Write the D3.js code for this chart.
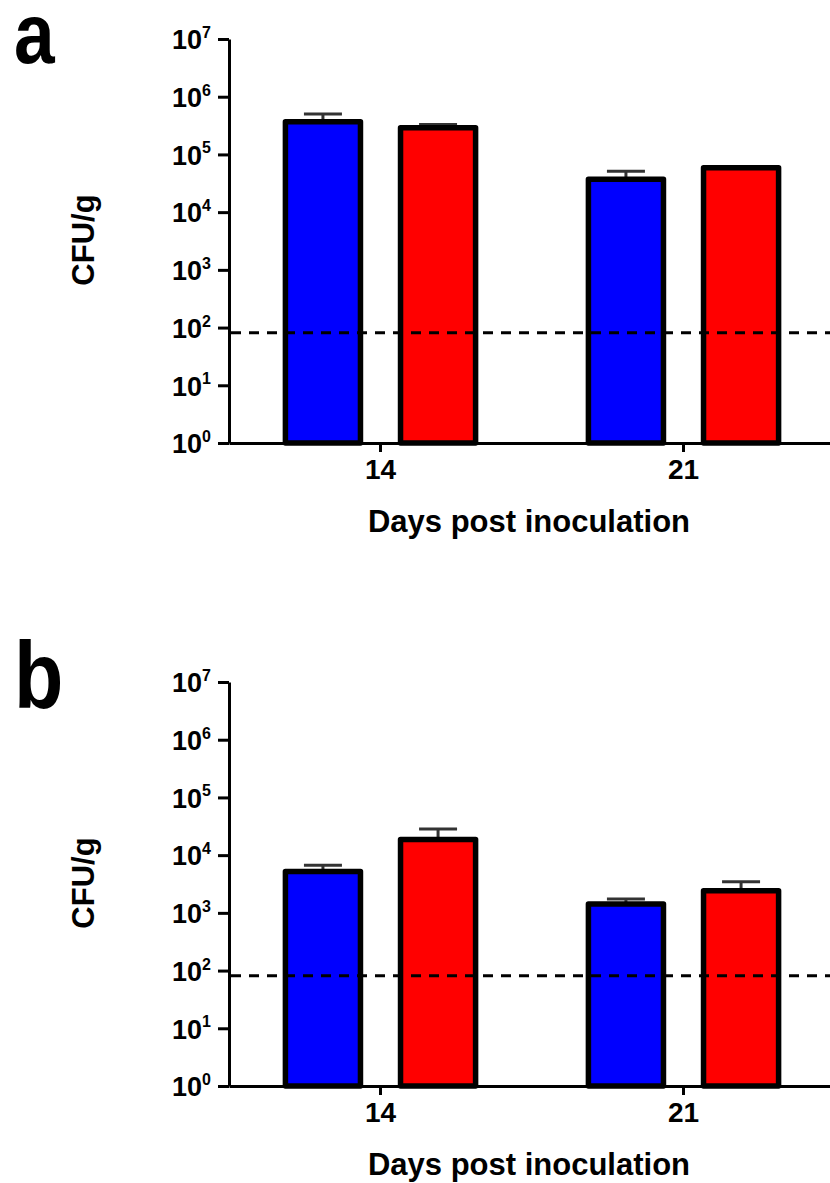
<!DOCTYPE html>
<html>
<head>
<meta charset="utf-8">
<script src="https://cdn.jsdelivr.net/npm/d3@7"></script>
<style>
  body { margin: 0; background: #fff; }
  text { font-family: "Liberation Sans", Arial, sans-serif; font-weight: bold; }
</style>
</head>
<body>
<svg id="chart" width="830" height="1183"></svg>
<script>
// days on the x axis
const days = ["14", "21"];
const seriesNames = ["blue", "red"];
const seriesColors = ["#0000ff", "#ff0000"];

// panel a: means and upper ends of the error bars (CFU/g)
const aBlue = [3.7e5, 3.7e4];
const aBlueUpper = [5.0e5, 5.1e4];
const aRed = [2.9e5, 5.9e4];
const aRedUpper = [3.3e5, 6.1e4];

// panel b
const bBlue = [5.2e3, 1.43e3];
const bBlueUpper = [6.7e3, 1.74e3];
const bRed = [1.87e4, 2.42e3];
const bRedUpper = [2.84e4, 3.47e3];

const yTicks = [1, 10, 100, 1e3, 1e4, 1e5, 1e6, 1e7];
const yTickExp = ["0", "1", "2", "3", "4", "5", "6", "7"];
const detectionLimit = 81;

const svg = d3.select("#chart");
const axisX = 229, axisRight = 835, plotH = 404;

function drawPanel(top, letter, blue, blueUp, red, redUp) {
    const g = svg.append("g").attr("transform", "translate(0," + top + ")");

    const y = d3.scaleLog().domain([1, 1e7]).range([plotH, 0]);
    const x0 = d3.scaleBand().domain(days).range([axisX, axisRight]);
    const x1 = d3.scaleBand().domain(seriesNames).range([0, x0.bandwidth()])
        .paddingInner(0.348).paddingOuter(0.49);

    const rows = [];
    days.forEach(function(d, i) {
        rows.push({day: d, s: "blue", v: blue[i], up: blueUp[i], c: seriesColors[0]});
        rows.push({day: d, s: "red", v: red[i], up: redUp[i], c: seriesColors[1]});
    });

    // error bars (upper only)
    const eb = g.selectAll(".err").data(rows).enter().append("g").attr("class", "err");
    eb.append("line")
        .attr("x1", d => x0(d.day) + x1(d.s) + x1.bandwidth() / 2)
        .attr("x2", d => x0(d.day) + x1(d.s) + x1.bandwidth() / 2)
        .attr("y1", d => y(d.v)).attr("y2", d => y(d.up))
        .attr("stroke", "#333").attr("stroke-width", 3);
    eb.append("line")
        .attr("x1", d => x0(d.day) + x1(d.s) + x1.bandwidth() / 2 - 19)
        .attr("x2", d => x0(d.day) + x1(d.s) + x1.bandwidth() / 2 + 19)
        .attr("y1", d => y(d.up)).attr("y2", d => y(d.up))
        .attr("stroke", "#333").attr("stroke-width", 3);

    // bars
    g.selectAll(".bar").data(rows).enter().append("rect")
        .attr("class", "bar")
        .attr("x", d => x0(d.day) + x1(d.s))
        .attr("width", x1.bandwidth())
        .attr("y", d => y(d.v))
        .attr("height", d => y(1) - y(d.v))
        .attr("fill", d => d.c)
        .attr("stroke", "#000")
        .attr("stroke-width", 5.5)
        .attr("stroke-linejoin", "round");

    // y axis
    const yAxis = d3.axisLeft(y).tickValues(yTicks).tickSize(11).tickSizeOuter(0).tickPadding(7)
        .tickFormat(() => "");
    const ya = g.append("g").attr("transform", "translate(" + axisX + ",0)").call(yAxis);
    ya.select(".domain").attr("stroke-width", 3);
    ya.selectAll(".tick line").attr("stroke-width", 3);
    ya.selectAll(".tick text").each(function(d, i) {
        const t = d3.select(this).attr("font-size", 27).attr("font-family", null).attr("dy", "0.36em")
            .attr("x", -18);
        t.append("tspan").text("10");
        t.append("tspan").text(yTickExp[i]).attr("font-size", 16).attr("dy", "-0.7em");
    });

    // x axis
    const xAxis = d3.axisBottom(x0).tickSize(9).tickSizeOuter(0).tickPadding(7);
    const xa = g.append("g").attr("transform", "translate(0," + plotH + ")").call(xAxis);
    xa.select(".domain").attr("stroke-width", 3);
    xa.selectAll(".tick line").attr("stroke-width", 3);
    xa.selectAll(".tick text").attr("font-size", 28).attr("font-family", null);

    // detection limit
    g.append("line")
        .attr("x1", axisX + 2).attr("x2", 830)
        .attr("y1", y(detectionLimit)).attr("y2", y(detectionLimit))
        .attr("stroke", "#000").attr("stroke-width", 3)
        .attr("stroke-dasharray", "10,8");

    // labels
    g.append("text").attr("x", 529).attr("y", plotH + 89)
        .attr("text-anchor", "middle").attr("font-size", 31).text("Days post inoculation");
    g.append("text").attr("transform", "translate(94," + 201 + ") rotate(-90)")
        .attr("text-anchor", "middle").attr("font-size", 31).text("CFU/g");
    g.append("text")
        .attr("transform", "translate(14," + (letter == "b" ? 26 : 24) + ") scale(0.86,1)")
        .attr("font-size", letter == "b" ? 94 : 85).text(letter);
}

drawPanel(39, "a", aBlue, aBlueUpper, aRed, aRedUpper);
drawPanel(682, "b", bBlue, bBlueUpper, bRed, bRedUpper);
</script>
</body>
</html>
